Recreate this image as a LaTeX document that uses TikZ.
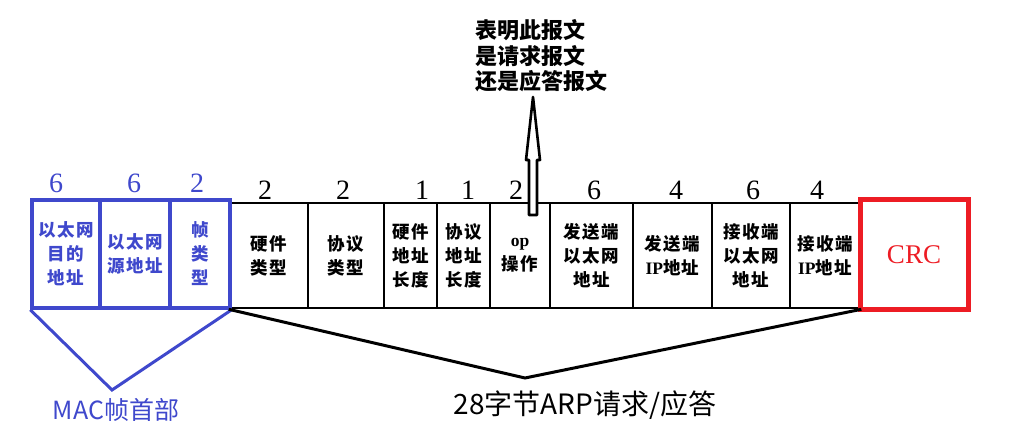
\documentclass[tikz,border=0pt]{standalone}
\usepackage{fontspec}
\usepackage{xcolor}
\newfontfamily\cjk{Noto Sans CJK SC}
\newfontfamily\cellfont[LetterSpace=8]{Noto Sans CJK SC}
\newfontfamily\numfont{Liberation Serif}
\usetikzlibrary{positioning}
\definecolor{macblue}{RGB}{63,72,204}
\definecolor{crcred}{RGB}{237,28,36}
\tikzset{field/.style={rectangle,draw,inner sep=0pt,align=center,font=\cellfont\bfseries\fontsize{17.5}{24}\selectfont},
  macfield/.style={field,draw=macblue,text=macblue,line width=3.5pt,minimum height=108},
  arpfield/.style={field,line width=2.6pt,minimum height=105},
  crcfield/.style={rectangle,draw=crcred,text=crcred,line width=5pt,minimum width=108,minimum height=110,font=\numfont\fontsize{27}{27}\selectfont},
  bytes/.style={font=\numfont\fontsize{28}{28}\selectfont},
  macline/.style={draw=macblue,line width=3pt},
  arpline/.style={draw=black,line width=3pt},
  notearrow/.style={draw,fill=white,line width=2.6pt,line join=round}}

\begin{document}
\begin{tikzpicture}[x=1pt,y=-1pt]
    \useasboundingbox (0,0) rectangle (1018,435);

    \node[arpfield,minimum width=78] (hw) at (269,255.5) {硬件\\类型};
    \node[arpfield,minimum width=76] (proto) at (346,255.5) {协议\\类型};
    \node[arpfield,minimum width=53] (hwlen) at (410.5,255.5) {硬件\\地址\\长度};
    \node[arpfield,minimum width=53] (protolen) at (463.5,255.5) {协议\\地址\\长度};
    \node[arpfield,minimum width=60] (op) at (520,255.5) {{\numfont op}\\操作};
    \node[arpfield,minimum width=83] (sendmac) at (591.5,255.5) {发送端\\以太网\\地址};
    \node[arpfield,minimum width=79] (sendip) at (672.5,255.5) {发送端\\{\numfont IP}地址};
    \node[arpfield,minimum width=78] (recvmac) at (751,255.5) {接收端\\以太网\\地址};
    \node[arpfield,minimum width=70] (recvip) at (825,255.5) {接收端\\{\numfont IP}地址};

    \node[macfield,minimum width=68] (mac1) at (66,254) {以太网\\目的\\地址};
    \node[macfield,minimum width=70] (mac2) at (135,254) {以太网\\源地址};
    \node[macfield,minimum width=60] (mac3) at (200,254) {帧\\类\\型};

    \node[crcfield] (crc) at (914,255) {CRC};

    \node[bytes,text=macblue] (n1) at (56,183) {6};
    \node[bytes,text=macblue] (n2) at (134,183) {6};
    \node[bytes,text=macblue] (n3) at (197,183) {2};
    \node[bytes] (n4) at (265,190) {2};
    \node[bytes] (n5) at (343,190) {2};
    \node[bytes] (n6) at (422,190) {1};
    \node[bytes] (n7) at (468,190) {1};
    \node[bytes] (n8) at (516,190) {2};
    \node[bytes] (n9) at (594,190) {6};
    \node[bytes] (n10) at (676,190) {4};
    \node[bytes] (n11) at (753,190) {6};
    \node[bytes] (n12) at (817,190) {4};

    \node[align=left,font=\cjk\bfseries\fontsize{22}{25.5}\selectfont] (note) at (541,56) {表明此报文\\是请求报文\\还是应答报文};
    \coordinate (optip) at (533,97);
    \draw[notearrow] (optip) -- ++(7,63) -- ++(-3,0) -- ++(0,55) -- ++(-8,0) -- ++(0,-55) -- ++(-3,0) -- cycle;

    \coordinate (macapex) at (112,390);
    \coordinate (arpapex) at (525,378);
    \draw[macline] (mac1.south west) -- (macapex) -- (mac3.south east);
    \draw[arpline] (hw.south west) -- (arpapex) -- (recvip.south east);

    \node[text=macblue,font=\cjk\fontsize{25}{25}\selectfont] (maclabel) at (116,410) {MAC帧首部};
    \node[font=\cjk\fontsize{28}{28}\selectfont] (arplabel) at (585,405) {28字节ARP请求/应答};
\end{tikzpicture}
\end{document}
